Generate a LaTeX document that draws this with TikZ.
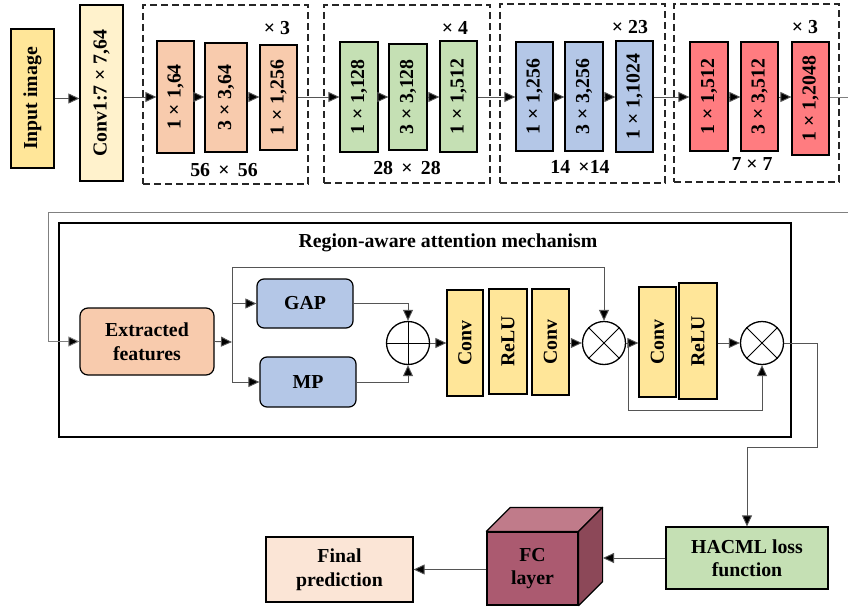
\documentclass[tikz,border=0pt]{standalone}
\usepackage{fontspec}
\usepackage{graphicx}
\setmainfont{Liberation Serif}
\usetikzlibrary{arrows.meta,calc}
\definecolor{cinput}{HTML}{FFE699}
\definecolor{cconv}{HTML}{FFF2CC}
\definecolor{corange}{HTML}{F8CBAD}
\definecolor{cgreen}{HTML}{C5E0B4}
\definecolor{cblue}{HTML}{B4C7E7}
\definecolor{cred}{HTML}{FF7C80}
\definecolor{cfinal}{HTML}{FBE5D6}
\definecolor{cfcfront}{HTML}{AB5A70}
\definecolor{cfctop}{HTML}{C07B8A}
\definecolor{cfcside}{HTML}{8C4858}
\definecolor{cline}{HTML}{555555}
\begin{document}
\begin{tikzpicture}[x=1pt,y=-1pt,
  every node/.style={font=\bfseries\fontsize{19.8}{23.5}\selectfont, inner sep=0pt},
  blk/.style={draw=black, line width=1.2pt, rectangle},
  rblk/.style={blk, rounded corners=8pt},
  grp/.style={draw=black!85, line width=1.3pt, dash pattern=on 7pt off 4pt, rectangle},
  arr/.style={draw=cline, line width=0.9pt, -{Triangle[length=11pt,width=10pt,fill=black]}},
  ln/.style={draw=cline, line width=0.9pt},
  opc/.style={draw=black, line width=1.3pt, circle, minimum size=43pt, fill=white}
]
\useasboundingbox (0,0) rectangle (848,610);

% ---------- top row ----------
\node[blk, fill=cinput, minimum width=43pt, minimum height=139pt] (inp) at (32.5,98.5) {\rotatebox{90}{Input image}};
\node[blk, fill=cconv, minimum width=43pt, minimum height=176pt] (c1) at (101.5,93) {\rotatebox{90}{Conv1:7 × 7,64}};

\node[grp, minimum width=165pt, minimum height=179pt] (g1) at (225.5,94.5) {};
\node[blk, fill=corange, minimum width=37pt, minimum height=112pt] (a1) at (175.5,97) {\rotatebox{90}{1 × 1,64}};
\node[blk, fill=corange, minimum width=42pt, minimum height=109pt] (a2) at (226,97.5) {\rotatebox{90}{3 × 3,64}};
\node[blk, fill=corange, minimum width=37pt, minimum height=105pt] (a3) at (278.5,97.5) {\rotatebox{90}{1 × 1,256}};
\node (ga) at (277,28) {× 3};
\node (sa) at (224,170) {56 \,×\, 56};

\node[grp, minimum width=166pt, minimum height=178pt] (g2) at (407,94) {};
\node[blk, fill=cgreen, minimum width=38pt, minimum height=110pt] (b1) at (359,97) {\rotatebox{90}{1 × 1,128}};
\node[blk, fill=cgreen, minimum width=38pt, minimum height=106pt] (b2) at (408,97) {\rotatebox{90}{3 × 3,128}};
\node[blk, fill=cgreen, minimum width=37pt, minimum height=111pt] (b3) at (458.5,96.5) {\rotatebox{90}{1 × 1,512}};
\node (gb) at (455,28) {× 4};
\node (sb) at (407,168) {28 \,×\, 28};

\node[grp, minimum width=165pt, minimum height=179pt] (g3) at (582.5,93.5) {};
\node[blk, fill=cblue, minimum width=37pt, minimum height=109pt] (e1) at (534.5,96.5) {\rotatebox{90}{1 × 1,256}};
\node[blk, fill=cblue, minimum width=38pt, minimum height=109pt] (e2) at (584,96.5) {\rotatebox{90}{3 × 3,256}};
\node[blk, fill=cblue, minimum width=37pt, minimum height=111pt] (e3) at (634.5,96.5) {\rotatebox{90}{1 × 1,1024}};
\node (ge) at (630,27) {× 23};
\node (se) at (580,167) {14 \,×14};

\node[grp, minimum width=165pt, minimum height=178pt] (g4) at (756.5,93) {};
\node[blk, fill=cred, minimum width=38pt, minimum height=109pt] (d1) at (709,96.5) {\rotatebox{90}{1 × 1,512}};
\node[blk, fill=cred, minimum width=37pt, minimum height=109pt] (d2) at (759.5,96.5) {\rotatebox{90}{3 × 3,512}};
\node[blk, fill=cred, minimum width=37pt, minimum height=113pt] (d3) at (810.5,98.5) {\rotatebox{90}{1 × 1,2048}};
\node (gd) at (805,27) {× 3};
\node (sd) at (752,164) {7 × 7};

\draw[arr] (inp.east) -- (inp.east -| c1.west);
\draw[arr] (c1.east |- 0,97) -- (a1.west |- 0,97);
\draw[arr] (a1.east |- 0,97) -- (a2.west |- 0,97);
\draw[arr] (a2.east |- 0,97) -- (a3.west |- 0,97);
\draw[arr] (a3.east |- 0,97) -- (b1.west |- 0,97);
\draw[arr] (b1.east |- 0,97) -- (b2.west |- 0,97);
\draw[arr] (b2.east |- 0,97) -- (b3.west |- 0,97);
\draw[arr] (b3.east |- 0,97) -- (e1.west |- 0,97);
\draw[arr] (e1.east |- 0,97) -- (e2.west |- 0,97);
\draw[arr] (e2.east |- 0,97) -- (e3.west |- 0,97);
\draw[arr] (e3.east |- 0,97) -- (d1.west |- 0,97);
\draw[arr] (d1.east |- 0,97) -- (d2.west |- 0,97);
\draw[arr] (d2.east |- 0,97) -- (d3.west |- 0,97);

% ---------- attention block ----------
\node[draw=black, line width=1.3pt, rectangle, minimum width=732pt, minimum height=214pt] (reg) at (425,330) {};
\node (title) at (448,243) {Region-aware attention mechanism};

\node[rblk, fill=corange, minimum width=134pt, minimum height=67pt, align=center] (ext) at (147,341.5) {Extracted\\features};
\node[rblk, rounded corners=7pt, fill=cblue, minimum width=96pt, minimum height=49pt] (gap) at (305,303.5) {GAP};
\node[rblk, rounded corners=7pt, fill=cblue, minimum width=96pt, minimum height=50pt] (mp) at (308,382) {MP};
\node[opc] (plus) at (408,343) {};
\node[blk, fill=cinput, minimum width=36pt, minimum height=106pt] (cv1) at (465,343) {\rotatebox{90}{Conv}};
\node[blk, fill=cinput, minimum width=38pt, minimum height=105pt] (rl1) at (508,341.5) {\rotatebox{90}{ReLU}};
\node[blk, fill=cinput, minimum width=37pt, minimum height=106pt] (cv2) at (550.5,342) {\rotatebox{90}{Conv}};
\node[opc] (t1) at (604,343) {};
\node[blk, fill=cinput, minimum width=37pt, minimum height=110pt] (cv3) at (657.5,342) {\rotatebox{90}{Conv}};
\node[blk, fill=cinput, minimum width=38pt, minimum height=116pt] (rl2) at (698,341) {\rotatebox{90}{ReLU}};
\node[opc] (t2) at (762,343) {};

\draw[line width=0.8pt] (plus.north) -- (plus.south) (plus.west) -- (plus.east);
\draw[line width=0.8pt] (t1.north west) -- (t1.south east) (t1.north east) -- (t1.south west);
\draw[line width=0.8pt] (t2.north west) -- (t2.south east) (t2.north east) -- (t2.south west);

\coordinate (loopA) at (850,97);
\coordinate (loopB) at (850,212);
\draw[arr, draw=gray] (d3.east |- 0,97) -- (loopA) -- (loopB) -- (48,212) |- (ext.west);

\coordinate (br) at (232,342);
\draw[arr] (ext.east) -- (br);
\draw[arr] (br) |- (gap.west);
\draw[arr] (br) |- (mp.west);
\draw[arr] (br) -- (232,267) -| (t1.north);
\draw[arr] (gap.east) -| (plus.north);
\draw[arr] (mp.east) -| (plus.south);
\draw[arr] (plus.east) -- (cv1.west |- plus.east);
\draw[arr] (cv2.east |- t1.west) -- (t1.west);
\draw[arr] (t1.east) -- (cv3.west |- t1.east);
\draw[arr] (rl2.east |- t2.west) -- (t2.west);
\coordinate (sk) at (628,343);
\draw[arr] (sk) -- (628,410) -| (t2.south);

% ---------- bottom ----------
\node[blk, fill=cgreen, minimum width=162pt, minimum height=62pt, align=center] (hac) at (747,558) {HACML loss\\function};
\node[blk, fill=cfcfront, minimum width=91pt, minimum height=73pt, align=center] (fc) at (532.5,568.5) {FC\\layer};
\draw[line width=1.2pt, fill=cfctop, line join=round] (fc.north west) -- ([shift={(24,-24)}]fc.north west) -- ([shift={(24,-24)}]fc.north east) -- (fc.north east) -- cycle;
\draw[line width=1.2pt, fill=cfcside, line join=round] (fc.north east) -- ([shift={(24,-24)}]fc.north east) -- ([shift={(24,-24)}]fc.south east) -- (fc.south east) -- cycle;
\coordinate (fcside) at (603,558);
\node[blk, fill=cfinal, minimum width=147pt, minimum height=65pt, align=center] (fin) at (339.5,569.5) {Final\\prediction};

\draw[arr] (t2.east) -- (817,343) -- (817,447) -| (hac.north);
\draw[arr] (hac.west) -- (fcside);
\draw[arr] (fc.west |- fin.east) -- (fin.east);
\end{tikzpicture}
\end{document}
